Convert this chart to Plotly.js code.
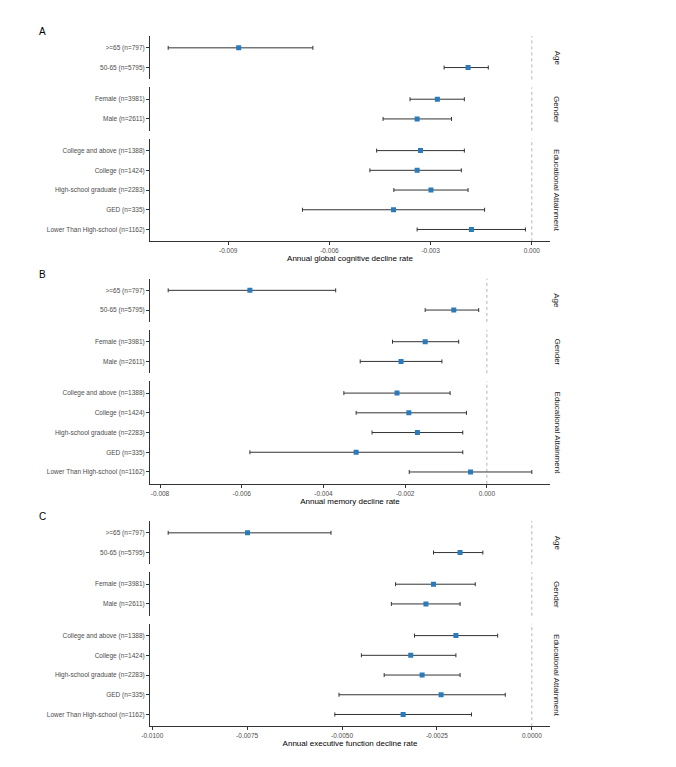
<!DOCTYPE html>
<html>
<head>
<meta charset="utf-8">
<script src="https://cdn.plot.ly/plotly-3.0.1.min.js"></script>
<style>
  html, body { margin: 0; padding: 0; background: #ffffff; }
  #chart { width: 676px; height: 767px; }
</style>
</head>
<body>
<div id="chart"></div>
<script>
// ---------- DATA ----------
const ageLabels = [">=65 (n=797)", "50-65 (n=5795)"];
const genderLabels = ["Female (n=3981)", "Male (n=2611)"];
const eduLabels = ["College and above (n=1388)", "College (n=1424)", "High-school graduate (n=2283)", "GED (n=335)", "Lower Than High-school (n=1162)"];
const facetNames = ["Age", "Gender", "Educational Attainment"];
const panelLetters = ["A", "B", "C"];
const axisTitles = ["Annual global cognitive decline rate", "Annual memory decline rate", "Annual executive function decline rate"];

// order of rows: ageLabels, genderLabels, eduLabels
const gcEst = [-0.00869, -0.00189, -0.00280, -0.00340, -0.00330, -0.00340, -0.00299, -0.00410, -0.00179];
const gcLow = [-0.01078, -0.00260, -0.00361, -0.00441, -0.00460, -0.00480, -0.00409, -0.00680, -0.00340];
const gcUp  = [-0.00649, -0.00129, -0.00200, -0.00238, -0.00200, -0.00209, -0.00189, -0.00140, -0.00019];

const memEst = [-0.00580, -0.00081, -0.00151, -0.00210, -0.00220, -0.00191, -0.00170, -0.00320, -0.00040];
const memLow = [-0.00780, -0.00151, -0.00231, -0.00310, -0.00350, -0.00320, -0.00281, -0.00580, -0.00190];
const memUp  = [-0.00370, -0.00020, -0.00069, -0.00110, -0.00090, -0.00050, -0.00059, -0.00059, 0.00110];

const efEst = [-0.00749, -0.00189, -0.00259, -0.00279, -0.00200, -0.00319, -0.00289, -0.00239, -0.00339];
const efLow = [-0.00958, -0.00259, -0.00359, -0.00370, -0.00309, -0.00449, -0.00389, -0.00508, -0.00519];
const efUp  = [-0.00529, -0.00129, -0.00149, -0.00189, -0.00090, -0.00200, -0.00189, -0.00070, -0.00159];

const ticksA = [-0.009, -0.006, -0.003, 0.000];
const tickTextA = ["-0.009", "-0.006", "-0.003", "0.000"];
const ticksB = [-0.008, -0.006, -0.004, -0.002, 0.000];
const tickTextB = ["-0.008", "-0.006", "-0.004", "-0.002", "0.000"];
const ticksC = [-0.0100, -0.0075, -0.0050, -0.0025, 0.0000];
const tickTextC = ["-0.0100", "-0.0075", "-0.0050", "-0.0025", "0.0000"];

// ---------- BUILD ----------
const W = 676, H = 767;
const panels = [
  {est: gcEst, low: gcLow, up: gcUp, ticks: ticksA, text: tickTextA},
  {est: memEst, low: memLow, up: memUp, ticks: ticksB, text: tickTextB},
  {est: efEst, low: efLow, up: efUp, ticks: ticksC, text: tickTextC}
];
const facets = [ageLabels, genderLabels, eduLabels];

const panelTops = [36, 278.5, 521];
const rowH = 19.72, gapPx = 8;
const xLeft = 150, xRight = 550;
const stripX = 557;

const markerColor = "#2b7bba";
const lineColor = "#333333";
const tickColor = "#4d4d4d";
const fontFam = "Liberation Sans, Arial, Helvetica, sans-serif";

const traces = [];
const layout = {
  width: W, height: H,
  margin: {l: 0, r: 0, t: 0, b: 0, pad: 0},
  paper_bgcolor: "#ffffff",
  plot_bgcolor: "rgba(0,0,0,0)",
  showlegend: false,
  font: {family: fontFam, color: "#000000"},
  shapes: [],
  annotations: []
};

panels.forEach((p, pi) => {
  const xName = pi === 0 ? "x" : "x" + (pi + 1);
  const xKey = pi === 0 ? "xaxis" : "xaxis" + (pi + 1);
  const lows = p.est.map((v, i) => v - p.low[i]);
  const highs = p.est.map((v, i) => p.up[i] - v);
  const allVals = p.low.concat(p.up).concat([0]);
  const mn = Math.min(...allVals), mx = Math.max(...allVals);
  const pad = (mx - mn) * 0.05;

  let top = panelTops[pi];
  let start = 0;
  let lastY = null;
  facets.forEach((labels, fi) => {
    const k = pi * 3 + fi + 1;
    const yName = k === 1 ? "y" : "y" + k;
    const yKey = k === 1 ? "yaxis" : "yaxis" + k;
    const n = labels.length;
    const hpx = (n + 0.2) * rowH;
    const bottom = top + hpx;
    layout[yKey] = {
      domain: [1 - bottom / H, 1 - top / H],
      anchor: xName,
      type: "category",
      categoryorder: "array",
      categoryarray: labels,
      range: [n - 0.4, -0.6],
      showline: true, linecolor: lineColor, linewidth: 1,
      ticks: "outside", ticklen: 3, tickwidth: 1, tickcolor: lineColor,
      tickfont: {size: 6.5, color: tickColor, family: fontFam},
      showgrid: false, zeroline: false, fixedrange: true,
      automargin: false
    };
    const sl = p.est.slice(start, start + n);
    traces.push({
      type: "scatter", mode: "markers",
      x: sl, y: labels,
      xaxis: xName, yaxis: yName,
      marker: {symbol: "square", size: 5, color: markerColor, line: {width: 0}},
      error_x: {
        type: "data", symmetric: false,
        array: highs.slice(start, start + n),
        arrayminus: lows.slice(start, start + n),
        color: lineColor, thickness: 1, width: 2
      },
      hoverinfo: "x+y"
    });
    layout.shapes.push({
      type: "line", xref: xName, yref: yName + " domain",
      x0: 0, x1: 0, y0: 0, y1: 1,
      line: {color: "#b3b3b3", width: 1, dash: "3px,3px"},
      layer: "below"
    });
    layout.annotations.push({
      xref: "paper", yref: yName + " domain",
      x: stripX / W, y: 0.5, xanchor: "center", yanchor: "middle",
      text: facetNames[fi], textangle: 90, showarrow: false,
      font: {size: 8, color: "#1a1a1a", family: fontFam}
    });
    lastY = yName;
    start += n;
    top = bottom + gapPx;
  });

  layout[xKey] = {
    domain: [xLeft / W, xRight / W],
    anchor: lastY,
    range: [mn - pad, mx + pad],
    tickvals: p.ticks, ticktext: p.text,
    showline: true, linecolor: lineColor, linewidth: 1,
    ticks: "outside", ticklen: 3, tickwidth: 1, tickcolor: lineColor,
    tickfont: {size: 6.5, color: tickColor, family: fontFam},
    showgrid: false, zeroline: false, fixedrange: true,
    automargin: false,
    title: {text: axisTitles[pi], font: {size: 8, color: "#000000", family: fontFam}, standoff: 2}
  };

  layout.annotations.push({
    xref: "paper", yref: "paper",
    x: 42 / W, y: 1 - (panelTops[pi] - 4.5) / H,
    xanchor: "center", yanchor: "middle",
    text: panelLetters[pi], showarrow: false,
    font: {size: 10, color: "#000000", family: fontFam}
  });
});

Plotly.newPlot("chart", traces, layout, {displayModeBar: false, staticPlot: false});
</script>
</body>
</html>
